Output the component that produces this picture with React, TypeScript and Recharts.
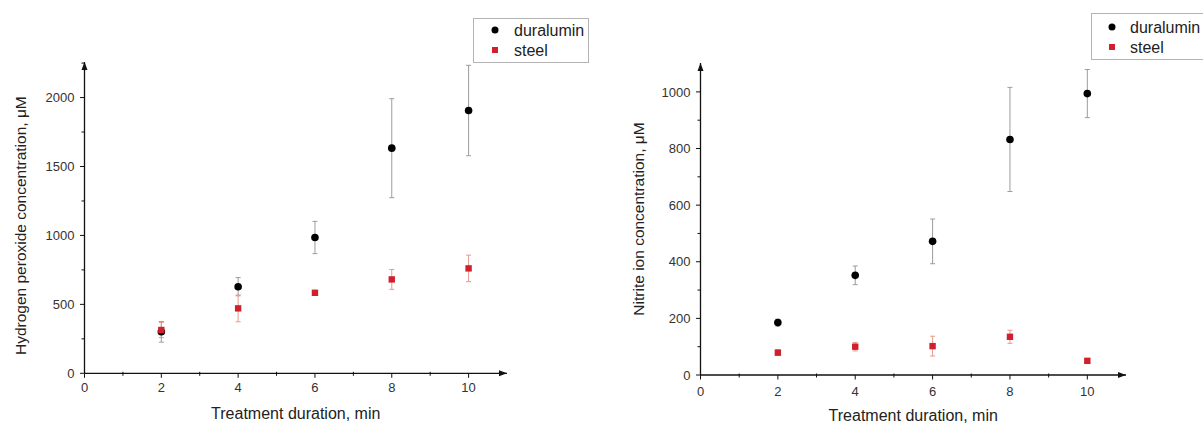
import React from 'react';
import { ScatterChart, Scatter, XAxis, YAxis, ErrorBar, Legend, Label, ReferenceDot } from 'recharts';

// ---------- data ----------
const durations = [2, 4, 6, 8, 10];
const xTicks = [0, 1, 2, 3, 4, 5, 6, 7, 8, 9, 10];
const xMajorTicks = [0, 2, 4, 6, 8, 10];
const xMax = 11;

const h2o2Duralumin = [301, 628, 985, 1633, 1906];
const h2o2DuraluminErr = [75, 66, 117, 359, 328];
const h2o2Steel = [314, 471, 584, 681, 761];
const h2o2SteelErr = [55, 97, 16, 72, 96];
const h2o2Ticks = [0, 250, 500, 750, 1000, 1250, 1500, 1750, 2000, 2250];
const h2o2MajorTicks = [0, 500, 1000, 1500, 2000];
const h2o2Max = 2258;

const nitriteDuralumin = [185, 352, 472, 832, 994];
const nitriteDuraluminErr = [12, 33, 79, 184, 85];
const nitriteSteel = [79, 100, 102, 135, 50];
const nitriteSteelErr = [10, 15, 35, 23, 6];
const nitriteTicks = [0, 100, 200, 300, 400, 500, 600, 700, 800, 900, 1000];
const nitriteMajorTicks = [0, 200, 400, 600, 800, 1000];
const nitriteMax = 1102;

const seriesNames = ['duralumin', 'steel'];

const toPoints = (ys: number[], errs: number[]) =>
  durations.map((x, i) => ({ x, y: ys[i], err: errs[i] }));

// ---------- style ----------
const FONT = '"Liberation Sans", Arial, sans-serif';
const AXIS = '#111';
const DURA = '#000000';
const STEEL = '#d0202e';
const DURA_ERR = '#9c9c9c';
const STEEL_ERR = '#e59a8c';

const YTick = (props: any) => {
  const { x, y, payload, major, margin } = props;
  const ax = x + margin;
  const isMajor = major.includes(payload.value);
  return (
    <g>
      <line x1={ax - (isMajor ? 4.5 : 3)} x2={ax} y1={y} y2={y} stroke={AXIS} strokeWidth={1} />
      {isMajor && (
        <text x={x} y={y} dy="0.36em" textAnchor="end" fontSize={13} fill="#333" fontFamily={FONT}>
          {payload.value}
        </text>
      )}
    </g>
  );
};

const XTick = (props: any) => {
  const { x, y, payload, margin } = props;
  const ay = y - margin;
  const isMajor = xMajorTicks.includes(payload.value);
  return (
    <g>
      <line x1={x} x2={x} y1={isMajor ? ay : ay - 1.5} y2={ay + (isMajor ? 4.5 : 2.5)} stroke={AXIS} strokeWidth={1} />
      {isMajor && (
        <text x={x} y={y} dy="0.36em" textAnchor="middle" fontSize={13} fill="#333" fontFamily={FONT}>
          {payload.value}
        </text>
      )}
    </g>
  );
};

const arrowRight = (p: any) => (
  <path d={`M${p.cx},${p.cy} L${p.cx - 8},${p.cy - 3} L${p.cx - 8},${p.cy + 3} Z`} fill={AXIS} />
);
const arrowUp = (p: any) => (
  <path d={`M${p.cx},${p.cy} L${p.cx - 3},${p.cy + 8} L${p.cx + 3},${p.cy + 8} Z`} fill={AXIS} />
);

const makeLegend = (cfg: any) => (props: any) => {
  const items = props.payload || [];
  return (
    <svg width={cfg.width} height={cfg.height} style={{ display: 'block', background: '#fff' }}>
      <rect x={0.5} y={0.5} width={cfg.width - 1 + (cfg.openRight ? 20 : 0)} height={cfg.height - 1} fill="#fff" stroke="#b4b4b4" strokeWidth={1} />
      {items.map((it: any, i: number) => {
        const cy = cfg.firstRow + i * 20;
        return (
          <g key={i}>
            {it.type === 'square' ? (
              <rect x={cfg.symX - 3} y={cy - 3} width={6} height={6} fill={it.color} />
            ) : (
              <circle cx={cfg.symX} cy={cy} r={3.5} fill={it.color} />
            )}
            <text x={cfg.textX} y={cy} dy="0.36em" fontSize={16} fill="#222" fontFamily={FONT}>
              {it.value}
            </text>
          </g>
        );
      })}
    </svg>
  );
};

const circleShape = (p: any) => <circle cx={p.cx} cy={p.cy} r={3.8} fill={DURA} />;
const squareShape = (p: any) => <rect x={p.cx - 3.2} y={p.cy - 3.2} width={6.4} height={6.4} fill={STEEL} />;

type PanelProps = {
  width: number;
  height: number;
  margin: any;
  yWidth: number;
  xHeight: number;
  yMax: number;
  yTicks: number[];
  yMajor: number[];
  yLabel: string;
  yLabelOffset: number;
  yLabelShift: number;
  xLabelOffset: number;
  xTickMargin: number;
  dura: any[];
  steel: any[];
  legend: any;
};

const Panel = (p: PanelProps) => {
  const plotH = p.height - p.margin.top - p.margin.bottom - p.xHeight;
  return (
    <ScatterChart width={p.width} height={p.height} margin={p.margin}>
      <XAxis
        type="number"
        dataKey="x"
        domain={[0, xMax]}
        ticks={xTicks}
        allowDataOverflow
        height={p.xHeight}
        tickLine={false}
        tickSize={0}
        tickMargin={p.xTickMargin}
        interval={0}
        axisLine={{ stroke: AXIS, strokeWidth: 1.3 }}
        tick={(tp: any) => <XTick {...tp} margin={p.xTickMargin} />}
      >
        <Label
          value="Treatment duration, min"
          position="insideBottom"
          offset={p.xLabelOffset}
          fontSize={16}
          fill="#222"
          fontFamily={FONT}
        />
      </XAxis>
      <YAxis
        type="number"
        dataKey="y"
        domain={[0, p.yMax]}
        ticks={p.yTicks}
        allowDataOverflow
        width={p.yWidth}
        tickLine={false}
        tickSize={0}
        tickMargin={10}
        interval={0}
        axisLine={{ stroke: AXIS, strokeWidth: 1.3 }}
        tick={(tp: any) => <YTick {...tp} major={p.yMajor} margin={10} />}
      >
        <Label
          value={p.yLabel}
          angle={-90}
          position="insideLeft"
          offset={p.yLabelOffset}
          viewBox={{ x: p.margin.left, y: p.margin.top + p.yLabelShift, width: p.yWidth, height: plotH }}
          style={{ textAnchor: 'middle' }}
          fontSize={15.5}
          fill="#222"
          fontFamily={FONT}
        />
      </YAxis>
      <Legend
        layout="horizontal"
        verticalAlign="middle"
        align="center"
        wrapperStyle={{ left: p.legend.left, top: p.legend.top, width: p.legend.width, height: p.legend.height }}
        content={makeLegend(p.legend)}
      />
      <ReferenceDot x={xMax} y={0} ifOverflow="visible" shape={arrowRight} />
      <ReferenceDot x={0} y={p.yMax} ifOverflow="visible" shape={arrowUp} />
      <Scatter
        name={seriesNames[0]}
        data={p.dura}
        fill={DURA}
        legendType="circle"
        shape={circleShape}
        isAnimationActive={false}
      >
        <ErrorBar dataKey="err" direction="y" width={2.5} stroke={DURA_ERR} strokeWidth={1} />
      </Scatter>
      <Scatter
        name={seriesNames[1]}
        data={p.steel}
        fill={STEEL}
        legendType="square"
        shape={squareShape}
        isAnimationActive={false}
      >
        <ErrorBar dataKey="err" direction="y" width={2.5} stroke={STEEL_ERR} strokeWidth={1} />
      </Scatter>
    </ScatterChart>
  );
};

export default function App() {
  return (
    <div
      style={{
        position: 'absolute',
        left: 0,
        top: 0,
        width: 1203,
        height: 424,
        overflow: 'hidden',
        background: '#fff',
        fontFamily: FONT,
      }}
    >
      <div style={{ position: 'absolute', left: 0, top: 0 }}>
        <Panel
          width={600}
          height={424}
          margin={{ top: 62, right: 93, bottom: 0, left: 0 }}
          yWidth={84.5}
          xHeight={50.7}
          yMax={h2o2Max}
          yTicks={h2o2Ticks}
          yMajor={h2o2MajorTicks}
          yLabel="Hydrogen peroxide concentration, μM"
          yLabelOffset={21}
          yLabelShift={8}
          xLabelOffset={5}
          xTickMargin={14}
          dura={toPoints(h2o2Duralumin, h2o2DuraluminErr)}
          steel={toPoints(h2o2Steel, h2o2SteelErr)}
          legend={{ left: 473, top: 18, width: 116, height: 45, firstRow: 12, symX: 22, textX: 41, openRight: false }}
        />
      </div>
      <div style={{ position: 'absolute', left: 600, top: 0 }}>
        <Panel
          width={603}
          height={424}
          margin={{ top: 63, right: 77, bottom: 0, left: 0 }}
          yWidth={100.5}
          xHeight={49}
          yMax={nitriteMax}
          yTicks={nitriteTicks}
          yMajor={nitriteMajorTicks}
          yLabel="Nitrite ion concentration, μM"
          yLabelOffset={38}
          yLabelShift={0}
          xLabelOffset={3}
          xTickMargin={16}
          dura={toPoints(nitriteDuralumin, nitriteDuraluminErr)}
          steel={toPoints(nitriteSteel, nitriteSteelErr)}
          legend={{ left: 491, top: 13, width: 112, height: 47, firstRow: 14, symX: 21, textX: 39, openRight: true }}
        />
      </div>
    </div>
  );
}
